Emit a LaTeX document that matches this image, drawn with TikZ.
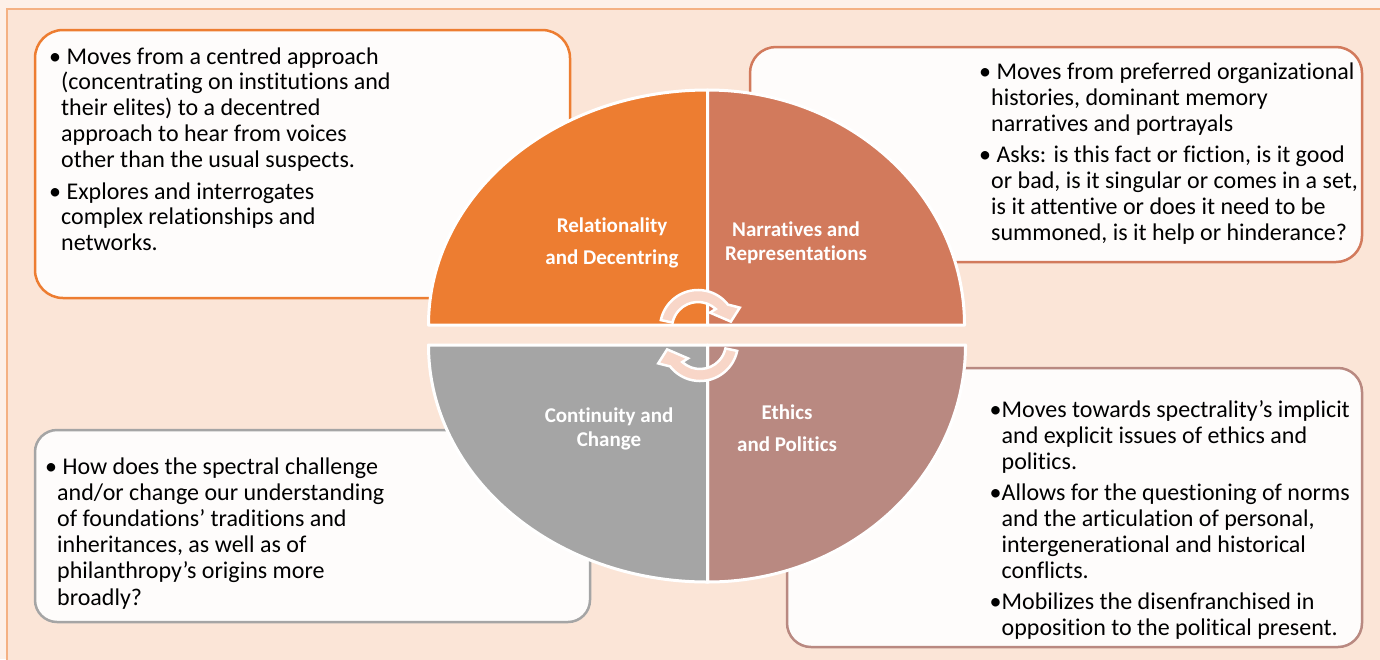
\documentclass[tikz,border=0pt]{standalone}
\usepackage{fontspec}
\setmainfont[Ligatures=NoCommon]{Carlito}
\definecolor{bgout}{HTML}{FDF0E8}
\definecolor{bgin}{HTML}{FBE5D7}
\definecolor{frameline}{HTML}{F4B183}
\definecolor{qorange}{HTML}{ED7D31}
\definecolor{qred}{HTML}{D27A5C}
\definecolor{qgray}{HTML}{A5A5A5}
\definecolor{qbrown}{HTML}{B98981}
\definecolor{boxfill}{HTML}{FEFCFB}
\definecolor{arrowfill}{HTML}{F8D6C8}
\newcommand{\bpar}[2]{\par\noindent\hangindent=#1\hangafter=1 #2}
\newcommand{\cyclearrow}{%
  (192:38) arc[start angle=192,end angle=322,radius=38]
  -- (334:46.5) -- (349:33.5) -- (308:19.5) -- (313:26)
  arc[start angle=313,end angle=192,radius=26] -- cycle}
\begin{document}
\begin{tikzpicture}[x=1pt,y=-1pt,
  infobox/.style={line width=2.5pt,fill=boxfill},
  quad/.style={draw=white,line width=3pt,line join=round},
  lbl/.style={text=white,font=\fontsize{21}{24}\selectfont\bfseries,align=center,inner sep=0pt},
  body/.style={anchor=base west,inner sep=0pt,text=black},
  carrow/.style={fill=arrowfill,draw=white,line width=2.5pt,line join=miter}]
\useasboundingbox (0,0) rectangle (1380,659);
\fill[bgout] (0,0) rectangle (1380,659);
\draw[frameline,fill=bgin,line width=2.5pt] (7,9) rectangle (1390,670);
% boxes
\draw[infobox,draw=qorange,rounded corners=28pt] (35,30) rectangle (570,298);
\draw[infobox,draw=qred,rounded corners=26pt] (750,47) rectangle (1362,262);
\draw[infobox,draw=qgray,rounded corners=22pt] (35,430) rectangle (590,622);
\draw[infobox,draw=qbrown,rounded corners=24pt] (787,368) rectangle (1362,647);
% quadrants
\path[quad,fill=qorange] (707.5,325) -- (428.5,325) arc[start angle=180,end angle=270,x radius=279,y radius=235] -- cycle;
\path[quad,fill=qred] (707.5,325) -- (707.5,90) arc[start angle=270,end angle=360,x radius=257,y radius=235] -- cycle;
\path[quad,fill=qbrown] (707.5,345) -- (965.5,345) arc[start angle=0,end angle=90,x radius=258,y radius=237] -- cycle;
\path[quad,fill=qgray] (707.5,345) -- (707.5,582) arc[start angle=90,end angle=180,x radius=279,y radius=237] -- cycle;
% cycle arrows
\begin{scope}[shift={(698,328)}]
\path[carrow] \cyclearrow;
\end{scope}
\begin{scope}[shift={(700,343)},rotate=180]
\path[carrow] \cyclearrow;
\end{scope}
% labels
\node[lbl,font=\fontsize{21}{32}\selectfont\bfseries] (l1) at (612,243) {Relationality\\and Decentring};
\node[lbl] (l2) at (796,243) {Narratives and\\Representations};
\node[lbl] (l3) at (609,429) {Continuity and\\Change};
\node[lbl,font=\fontsize{21}{32}\selectfont\bfseries] (l4) at (787,428) {Ethics\\and Politics};
% body texts
\node[body] (t1) at (49,64) {\parbox[t]{500pt}{\fontsize{24}{25.8}\selectfont\setlength{\parskip}{6pt}%
\bpar{12pt}{• Moves from a centred approach\\(concentrating on institutions and\\their elites) to a decentred\\approach to hear from voices\\other than the usual suspects.}
\bpar{12pt}{• Explores and interrogates\\complex relationships and\\networks.}}};
\node[body] (t2) at (979,79) {\parbox[t]{400pt}{\fontsize{24}{26}\selectfont\setlength{\parskip}{5pt}%
\bpar{12pt}{• Moves from preferred organizational\\histories, dominant memory\\narratives and portrayals}
\bpar{12pt}{• Asks: is this fact or fiction, is it good\\or bad, is it singular or comes in a set,\\is it attentive or does it need to be\\summoned, is it help or hinderance?}}};
\node[body] (t3) at (45,474) {\parbox[t]{500pt}{\fontsize{24}{26.2}\selectfont
\bpar{12pt}{• How does the spectral challenge\\and/or change our understanding\\of foundations’ traditions and\\inheritances, as well as of\\philanthropy’s origins more\\broadly?}}};
\node[body] (t4) at (989.5,417) {\parbox[t]{400pt}{\fontsize{24}{26}\selectfont\setlength{\parskip}{5pt}%
\bpar{12pt}{\makebox[12pt][l]{•}Moves towards spectrality’s implicit\\and explicit issues of ethics and\\politics.}
\bpar{12pt}{\makebox[12pt][l]{•}Allows for the questioning of norms\\and the articulation of personal,\\intergenerational and historical\\conflicts.}
\bpar{12pt}{\makebox[12pt][l]{•}Mobilizes the disenfranchised in\\opposition to the political present.}}};
\end{tikzpicture}
\end{document}
